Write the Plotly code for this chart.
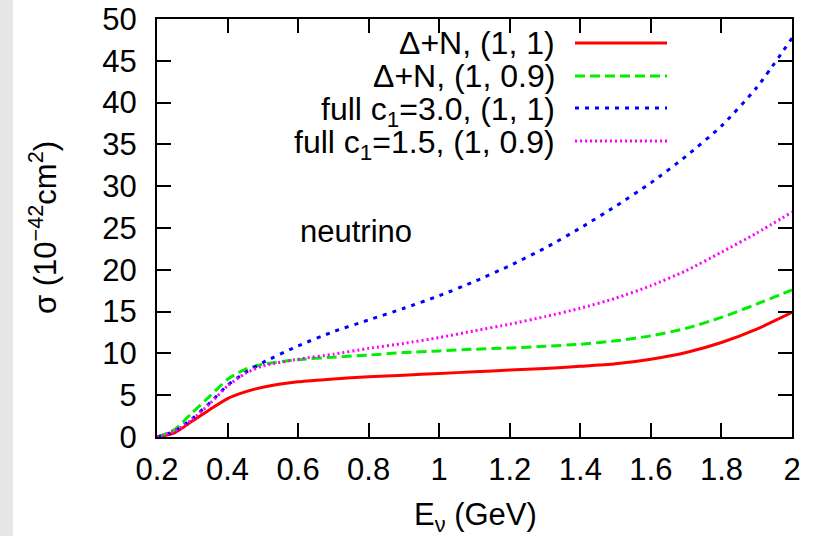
import plotly.graph_objects as go

# Neutrino energy grid (GeV)
energy = [0.2, 0.25, 0.3, 0.35, 0.4, 0.45, 0.5, 0.6, 0.7, 0.8, 0.9, 1.0,
          1.1, 1.2, 1.3, 1.4, 1.5, 1.6, 1.7, 1.8, 1.9, 2.0]

# Cross sections in 1e-42 cm^2
delta_n_1_1 = [0.0, 0.5, 1.9, 3.3, 4.6, 5.4, 5.95, 6.6, 6.95, 7.2, 7.4, 7.6,
               7.8, 8.0, 8.2, 8.45, 8.75, 9.3, 10.1, 11.3, 12.9, 14.9]
delta_n_1_09 = [0.0, 0.9, 2.9, 4.9, 6.9, 8.1, 8.7, 9.25, 9.55, 9.8, 10.1, 10.3,
                10.5, 10.65, 10.85, 11.1, 11.5, 12.1, 13.0, 14.3, 15.9, 17.6]
full_c3_1_1 = [0.0, 0.7, 2.2, 4.1, 6.2, 7.7, 8.9, 10.9, 12.6, 14.0, 15.4, 16.9,
               18.6, 20.5, 22.6, 25.0, 27.6, 30.4, 33.6, 37.2, 41.8, 47.7]
full_c15_1_09 = [0.0, 0.7, 2.1, 4.0, 6.1, 7.6, 8.5, 9.3, 9.9, 10.6, 11.2, 11.9,
                 12.7, 13.5, 14.4, 15.4, 16.6, 18.1, 19.9, 22.1, 24.4, 26.9]

x_ticks = [0.2, 0.4, 0.6, 0.8, 1.0, 1.2, 1.4, 1.6, 1.8, 2.0]
x_tick_text = ["0.2", "0.4", "0.6", "0.8", "1", "1.2", "1.4", "1.6", "1.8", "2"]
y_ticks = [0, 5, 10, 15, 20, 25, 30, 35, 40, 45, 50]

series = [
    ("Δ+N, (1, 1)", delta_n_1_1, "#ff0000", "solid"),
    ("Δ+N, (1, 0.9)", delta_n_1_09, "#00ee00", "10px,5px"),
    ("full c<sub>1</sub>=3.0, (1, 1)", full_c3_1_1, "#0000ff", "4px,6px"),
    ("full c<sub>1</sub>=1.5, (1, 0.9)", full_c15_1_09, "#ff00ff", "2px,3px"),
]

FONT = "Liberation Sans, Arial, Helvetica, sans-serif"
W, H = 822, 536
L, R, T, B = 157, 30, 19, 99
pw, ph = W - L - R, H - T - B


def px_x(p):
    return (p - L) / pw


def px_y(p):
    return (H - B - p) / ph


fig = go.Figure()
for name, ys, color, dash in series:
    fig.add_trace(go.Scatter(
        x=energy, y=ys, mode="lines", name=name, showlegend=False,
        line=dict(color=color, width=3, dash=dash, shape="spline", smoothing=0.6),
    ))

shapes = [
    # grey strip along the left edge of the page
    dict(type="rect", xref="paper", yref="paper", x0=px_x(0), x1=px_x(13),
         y0=px_y(H), y1=px_y(0), fillcolor="#e6e6e6", line=dict(width=0),
         layer="below"),
]
annotations = []

# key: text on the left, line sample on the right
rows_y = [43, 76, 108, 141]
row_shift = [0, 0, 3, 3]  # subscripted rows sit a little higher in their box
for (name, ys, color, dash), ry, sh in zip(series, rows_y, row_shift):
    shapes.append(dict(type="line", xref="paper", yref="paper",
                       x0=px_x(575), x1=px_x(667), y0=px_y(ry), y1=px_y(ry),
                       line=dict(color=color, width=3, dash=dash)))
    annotations.append(dict(text=name, xref="paper", yref="paper",
                            x=px_x(557), y=px_y(ry + sh), xanchor="right",
                            yanchor="middle", showarrow=False,
                            font=dict(family=FONT, size=32, color="black")))

annotations.append(dict(text="neutrino", xref="paper", yref="paper",
                        x=px_x(356), y=px_y(231), xanchor="center",
                        yanchor="middle", showarrow=False,
                        font=dict(family=FONT, size=31, color="black")))
annotations.append(dict(text="σ (10<sup>−42</sup>cm<sup>2</sup>)",
                        xref="paper", yref="paper", x=px_x(43), y=px_y(228),
                        xanchor="center", yanchor="middle", textangle=-90,
                        showarrow=False,
                        font=dict(family=FONT, size=31, color="black")))
annotations.append(dict(text="E<sub>ν</sub> (GeV)", xref="paper", yref="paper",
                        x=px_x(475), y=px_y(517), xanchor="center",
                        yanchor="middle", showarrow=False,
                        font=dict(family=FONT, size=31, color="black")))

axis_common = dict(
    showline=True, linecolor="black", linewidth=2, mirror="ticks",
    ticks="inside", ticklen=14, tickwidth=2, tickcolor="black",
    showgrid=False, zeroline=False, automargin=False,
    tickfont=dict(family=FONT, size=31, color="black"),
)

fig.update_layout(
    width=W, height=H,
    margin=dict(l=L, r=R, t=T, b=B, autoexpand=False),
    paper_bgcolor="white", plot_bgcolor="white",
    showlegend=False,
    xaxis=dict(range=[0.2, 2.0], tickvals=x_ticks, ticktext=x_tick_text,
               ticklabelstandoff=4, **axis_common),
    yaxis=dict(range=[0, 50], tickvals=y_ticks, ticklabelstandoff=12,
               **axis_common),
    shapes=shapes,
    annotations=annotations,
)

fig.write_html("out.html")
